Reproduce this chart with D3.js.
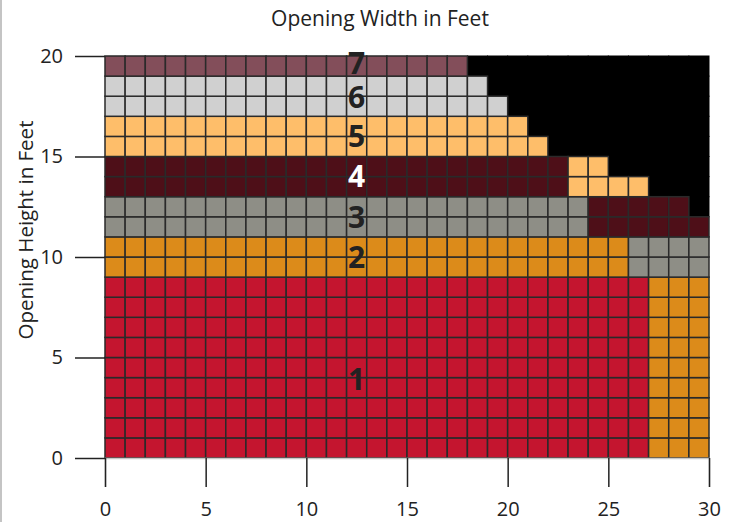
<!DOCTYPE html>
<html>
<head>
<meta charset="utf-8">
<script src="https://cdn.jsdelivr.net/npm/d3@7"></script>
<style>
  html, body { margin: 0; padding: 0; background: #fff; }
  svg { display: block; }
  text { font-family: "Open Sans", "Noto Sans", sans-serif; }
</style>
</head>
<body>
<svg id="chart" width="734" height="522"></svg>
<script>
// ---- data ----
const categories = [1, 2, 3, 4, 5, 6, 7];
const categoryColors = ["#C4152F", "#DC8B1A", "#8E8E86", "#4E0F18", "#FEBE6A", "#D0D0D0", "#834E5A"];
const labelHeights = [3.9, 10, 12, 14, 16, 17.95, 19.65];  // where each category number sits
const labelX = 12.5;
// one entry per 1-ft row, from height 0 to 19
const rowBase    = [1, 1, 1, 1, 1, 1, 1, 1, 1, 2, 2, 3, 3, 4, 4, 5, 5, 6, 6, 7];
const rowBaseEnd = [27, 27, 27, 27, 27, 27, 27, 27, 27, 26, 26, 24, 24, 23, 23, 22, 21, 20, 19, 18];
const rowNext    = [2, 2, 2, 2, 2, 2, 2, 2, 2, 3, 3, 4, 4, 5, 5, 0, 0, 0, 0, 0];
const rowNextEnd = [30, 30, 30, 30, 30, 30, 30, 30, 30, 30, 30, 30, 29, 27, 25, 0, 0, 0, 0, 0];
const xTicks = [0, 5, 10, 15, 20, 25, 30];
const yTicks = [0, 5, 10, 15, 20];
const maxWidth = 30, maxHeight = 20;

// ---- build cells ----
const cells = [];
for (let r = 0; r < rowBase.length; r++) {
  for (let c = 0; c < maxWidth; c++) {
    let cat = 0;
    if (c < rowBaseEnd[r]) cat = rowBase[r];
    else if (rowNext[r] && c < rowNextEnd[r]) cat = rowNext[r];
    cells.push({ x: c, y: r, cat });
  }
}

const svg = d3.select("#chart");
const x = d3.scaleLinear().domain([0, maxWidth]).range([105, 709]);
const y = d3.scaleLinear().domain([0, maxHeight]).range([458, 56]);
const color = d3.scaleOrdinal().domain(categories).range(categoryColors);

// left page border
svg.append("line").attr("x1", 1).attr("x2", 1).attr("y1", 0).attr("y2", 522)
  .attr("stroke", "#b0b0b0").attr("stroke-width", 1.5);

// black cells first, then coloured cells on top
svg.append("g").selectAll("rect")
  .data(cells.filter(d => d.cat === 0))
  .join("rect")
  .attr("x", d => x(d.x) - 0.5)
  .attr("y", d => y(d.y + 1) - 0.5)
  .attr("width", d => x(d.x + 1) - x(d.x) + 1)
  .attr("height", d => y(d.y) - y(d.y + 1) + 1)
  .attr("fill", "#000");

svg.append("g").selectAll("rect")
  .data(cells.filter(d => d.cat !== 0))
  .join("rect")
  .attr("x", d => x(d.x))
  .attr("y", d => y(d.y + 1))
  .attr("width", d => x(d.x + 1) - x(d.x))
  .attr("height", d => y(d.y) - y(d.y + 1))
  .attr("fill", d => color(d.cat))
  .attr("stroke", "#2a2a2a")
  .attr("stroke-width", 1.5);

// x axis
const xAxis = svg.append("g")
  .attr("transform", `translate(0,${y(0)})`)
  .call(d3.axisBottom(x).tickValues(xTicks).tickSize(29).tickPadding(15).tickFormat(d3.format("d")));
xAxis.select(".domain").attr("stroke", "#c8c8c8").attr("stroke-width", 1.5);
xAxis.selectAll(".tick line").attr("stroke", "#222").attr("stroke-width", 1.5);
xAxis.selectAll(".tick text").attr("font-size", 20).attr("fill", "#222")
  .attr("font-family", "'Open Sans', sans-serif");

// y axis
const yAxis = svg.append("g")
  .attr("transform", `translate(${x(0)},0)`)
  .call(d3.axisLeft(y).tickValues(yTicks).tickSize(30).tickPadding(12).tickFormat(d3.format("d")));
yAxis.select(".domain").remove();
yAxis.selectAll(".tick line").attr("stroke", "#222").attr("stroke-width", 1.5);
yAxis.selectAll(".tick text").attr("font-size", 20).attr("fill", "#222")
  .attr("font-family", "'Open Sans', sans-serif");

// category labels
svg.append("g").selectAll("text")
  .data(categories)
  .join("text")
  .attr("x", x(labelX))
  .attr("y", (d, i) => y(labelHeights[i]))
  .attr("dy", "0.36em")
  .attr("text-anchor", "middle")
  .attr("font-size", 30)
  .attr("font-weight", "bold")
  .attr("fill", d => d === 4 ? "#fff" : "#222")
  .text(d => d);

// titles
svg.append("text")
  .attr("x", 380).attr("y", 26)
  .attr("text-anchor", "middle")
  .attr("font-size", 21).attr("fill", "#222")
  .text("Opening Width in Feet");

svg.append("text")
  .attr("transform", `translate(33,${230}) rotate(-90)`)
  .attr("text-anchor", "middle")
  .attr("font-size", 20.5).attr("fill", "#222")
  .text("Opening Height in Feet");
</script>
</body>
</html>
